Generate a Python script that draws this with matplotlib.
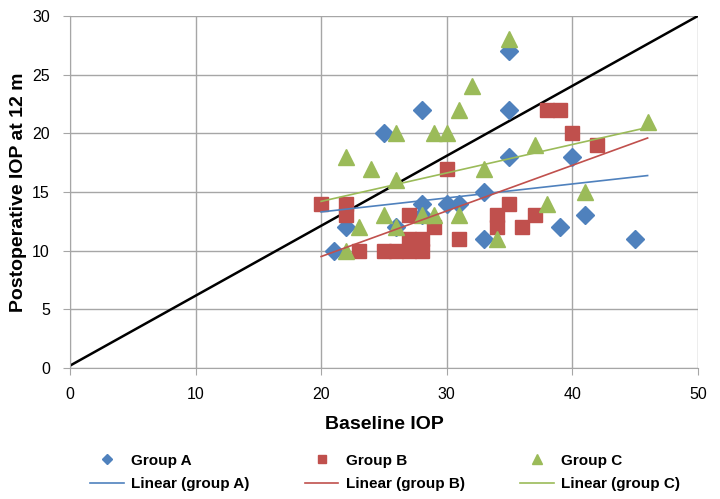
import numpy as np
import matplotlib.pyplot as plt

plt.rcParams["font.family"] = ["Liberation Sans", "DejaVu Sans"]

# Group A (blue diamonds)
a_x = [21, 22, 25, 26, 28, 28, 28, 30, 31, 33, 33, 35, 35, 35, 39, 40, 41, 45]
a_y = [10, 12, 20, 12, 22, 14, 13, 14, 14, 15, 11, 27, 22, 18, 12, 18, 13, 11]

# Group B (red squares)
b_x = [20, 22, 22, 23, 25, 26, 27, 27, 28, 28, 27, 29, 30, 31, 34, 34, 35, 36, 37, 38, 39, 40, 42]
b_y = [14, 14, 13, 10, 10, 10, 10, 11, 10, 11, 13, 12, 17, 11, 13, 12, 14, 12, 13, 22, 22, 20, 19]

# Group C (green triangles)
c_x = [22, 22, 23, 24, 25, 26, 26, 26, 28, 29, 29, 30, 31, 31, 32, 33, 34, 35, 37, 38, 41, 46]
c_y = [18, 10, 12, 17, 13, 20, 16, 12, 13, 20, 13, 20, 22, 13, 24, 17, 11, 28, 19, 14, 15, 21]

# trendline end points
trend_x = [20, 46]
trend_a = [13.3, 16.4]
trend_b = [9.5, 19.6]
trend_c = [14.2, 20.5]

# reference line
ref_x = [0, 50]
ref_y = [0.2, 30]

blue, red, green = "#4F81BD", "#C0504D", "#9BBB59"

fig = plt.figure(figsize=(7.2, 4.99), dpi=100)
ax = fig.add_axes([0.0972, 0.2625, 0.872, 0.7055])

ax.plot(ref_x, ref_y, color="black", lw=1.8, zorder=2)

ha, = ax.plot(a_x, a_y, "D", color=blue, ms=9, mec=blue, lw=0, zorder=3, label="Group A")
hb, = ax.plot(b_x, b_y, "s", color=red, ms=10, mec=red, lw=0, zorder=3, label="Group B")
hc, = ax.plot(c_x, c_y, "^", color=green, ms=11, mec=green, lw=0, zorder=3, label="Group C")

la, = ax.plot(trend_x, trend_a, color=blue, lw=1.2, zorder=4, label="Linear (group A)")
lb, = ax.plot(trend_x, trend_b, color=red, lw=1.2, zorder=4, label="Linear (group B)")
lc, = ax.plot(trend_x, trend_c, color=green, lw=1.2, zorder=4, label="Linear (group C)")

ax.set_xlim(0, 50)
ax.set_ylim(0, 30)
ax.set_xticks(range(0, 51, 10))
ax.set_yticks(range(0, 31, 5))
ax.grid(True, color="#A6A6A6", lw=1)
ax.set_axisbelow(True)
for s in ["top", "right"]:
    ax.spines[s].set_visible(False)
for s in ["left", "bottom"]:
    ax.spines[s].set_color("#A6A6A6")
ax.tick_params(axis="both", labelsize=11.5, color="#A6A6A6", length=5)
ax.tick_params(axis="x", pad=9)
ax.tick_params(axis="y", pad=9.5)

ax.set_xlabel("Baseline IOP", fontsize=14, fontweight="bold", labelpad=10)
ax.set_ylabel("Postoperative IOP at 12 m", fontsize=14, fontweight="bold", labelpad=4)

fig.legend(handles=[ha, la, hb, lb, hc, lc], ncol=3, loc="lower center",
           bbox_to_anchor=(0.535, -0.012), frameon=False, markerscale=0.6,
           prop={"weight": "bold", "size": 11}, columnspacing=3.6,
           handlelength=2.2, handletextpad=0.5, labelspacing=0.63)

fig.savefig("out.png", dpi=100)
